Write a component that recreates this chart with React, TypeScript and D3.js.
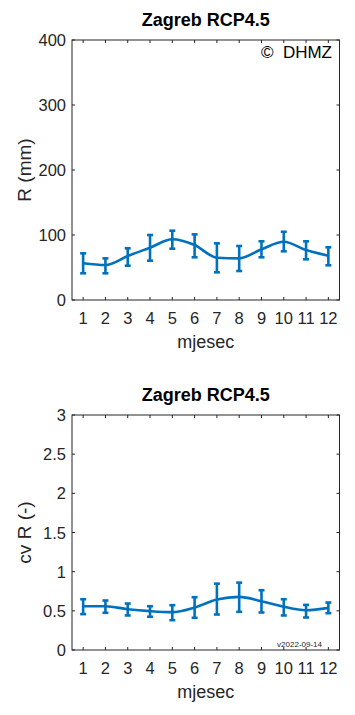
import React from "react";
import * as d3 from "d3";

const months = [1, 2, 3, 4, 5, 6, 7, 8, 9, 10, 11, 12];
const rMean = [56.5, 53.8, 67.7, 80.5, 93.4, 84.6, 65.1, 64.1, 78.0, 89.7, 76.9, 68.2];
const rHigh = [71.8, 64.1, 79.5, 100.0, 106.6, 101.0, 87.2, 83.1, 90.3, 105.0, 90.3, 81.1];
const rLow = [41.1, 41.1, 52.8, 60.5, 78.9, 65.7, 42.6, 44.6, 65.7, 74.9, 62.6, 53.4];
const cvMean = [0.559, 0.559, 0.521, 0.496, 0.483, 0.542, 0.644, 0.678, 0.623, 0.551, 0.508, 0.538];
const cvHigh = [0.648, 0.632, 0.593, 0.559, 0.572, 0.674, 0.847, 0.86, 0.763, 0.648, 0.576, 0.606];
const cvLow = [0.458, 0.475, 0.441, 0.424, 0.381, 0.411, 0.453, 0.487, 0.479, 0.441, 0.415, 0.47];
const rTicks = [0, 100, 200, 300, 400];
const cvTicks = [0, 0.5, 1, 1.5, 2, 2.5, 3];

const BLUE = "#0072BD";
const AX = "#262626";
const FONT = "'Liberation Sans', Arial, Helvetica, sans-serif";

type PanelProps = {
  top: number;
  bottom: number;
  title: string;
  ylabel: string;
  ticks: number[];
  yMax: number;
  mean: number[];
  hi: number[];
  lo: number[];
  fmt: (v: number) => string;
  extra?: React.ReactNode;
};

const L = 72;
const R = 339.5;

function Panel(p: PanelProps) {
  const x = d3.scaleLinear().domain([0.5, 12.5]).range([L, R]);
  const y = d3.scaleLinear().domain([0, p.yMax]).range([p.bottom, p.top]);
  const line = d3
    .line<number>()
    .x((_, i) => x(months[i]))
    .y((d) => y(d))
    .curve(d3.curveMonotoneX);
  const cap = 3;
  return (
    <g fontFamily={FONT}>
      <text x={(L + R) / 2} y={p.top - 14} textAnchor="middle" fontSize={18} fontWeight="bold" fill="#000">
        {p.title}
      </text>
      <rect x={L} y={p.top} width={R - L} height={p.bottom - p.top} fill="#fff" stroke={AX} strokeWidth={1} />
      {months.map((m) => (
        <g key={m}>
          <line x1={x(m)} x2={x(m)} y1={p.bottom} y2={p.bottom - 3} stroke={AX} />
          <line x1={x(m)} x2={x(m)} y1={p.top} y2={p.top + 3} stroke={AX} />
          <text x={x(m)} y={p.bottom + 24} textAnchor="middle" fontSize={16.5} fill={AX}>
            {m}
          </text>
        </g>
      ))}
      {p.ticks.map((t) => (
        <g key={t}>
          <line x1={L} x2={L + 3} y1={y(t)} y2={y(t)} stroke={AX} />
          <line x1={R} x2={R - 3} y1={y(t)} y2={y(t)} stroke={AX} />
          <text x={L - 6} y={y(t) + 6} textAnchor="end" fontSize={16.5} fill={AX}>
            {p.fmt(t)}
          </text>
        </g>
      ))}
      <text x={(L + R) / 2} y={p.bottom + 48} textAnchor="middle" fontSize={18} fill={AX}>
        mjesec
      </text>
      <text
        transform={`translate(${31},${(p.top + p.bottom) / 2}) rotate(-90)`}
        textAnchor="middle"
        fontSize={19}
        fill={AX}
      >
        {p.ylabel}
      </text>
      {p.extra}
      <path d={line(p.mean) || ""} fill="none" stroke={BLUE} strokeWidth={2.6} />
      {months.map((m, i) => (
        <g key={"e" + m} stroke={BLUE} strokeWidth={2.6}>
          <line x1={x(m)} x2={x(m)} y1={y(p.lo[i])} y2={y(p.hi[i])} />
          <line x1={x(m) - cap} x2={x(m) + cap} y1={y(p.lo[i])} y2={y(p.lo[i])} />
          <line x1={x(m) - cap} x2={x(m) + cap} y1={y(p.hi[i])} y2={y(p.hi[i])} />
        </g>
      ))}
    </g>
  );
}

export default function App() {
  return (
    <svg width={355} height={715} style={{ position: "absolute", left: 0, top: 0, background: "#fff" }}>
      <rect width={355} height={715} fill="#fff" />
      <Panel
        top={40}
        bottom={300}
        title="Zagreb RCP4.5"
        ylabel="R (mm)"
        ticks={rTicks}
        yMax={400}
        mean={rMean}
        hi={rHigh}
        lo={rLow}
        fmt={(v) => String(v)}
        extra={
          <text x={332} y={58} textAnchor="end" fontSize={17} fill="#000" fontFamily={FONT} style={{ whiteSpace: "pre" }}>
            {"©  DHMZ"}
          </text>
        }
      />
      <Panel
        top={415}
        bottom={650}
        title="Zagreb RCP4.5"
        ylabel="cv R (-)"
        ticks={cvTicks}
        yMax={3}
        mean={cvMean}
        hi={cvHigh}
        lo={cvLow}
        fmt={(v) => String(v)}
        extra={
          <text x={322} y={647} textAnchor="end" fontSize={8} fill={AX} fontFamily={FONT}>
            v2022-09-14
          </text>
        }
      />
    </svg>
  );
}
